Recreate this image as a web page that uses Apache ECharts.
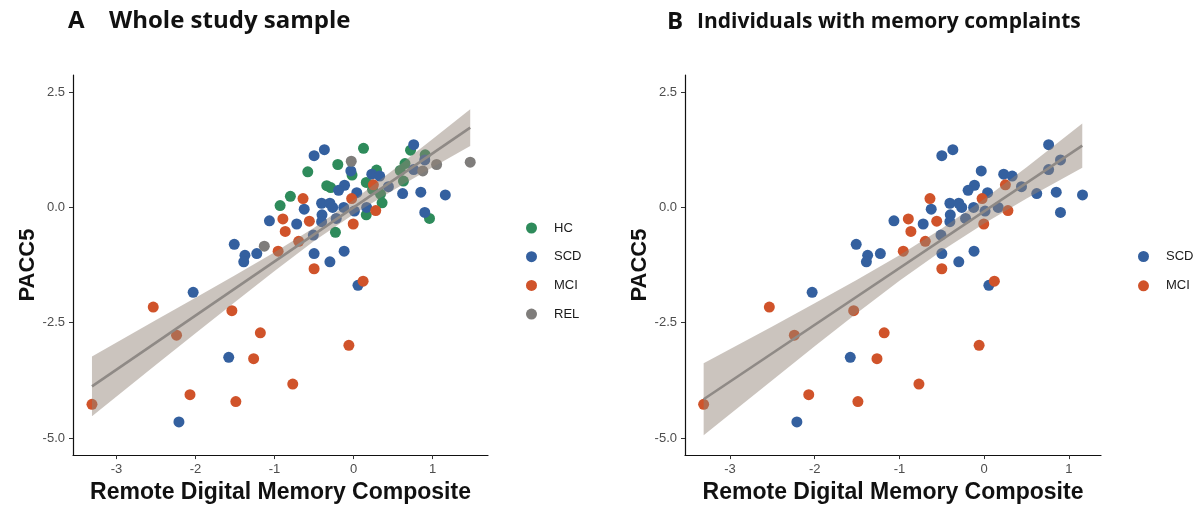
<!DOCTYPE html>
<html>
<head>
<meta charset="utf-8">
<script src="https://cdn.jsdelivr.net/npm/echarts@6/dist/echarts.min.js"></script>
<style>
html,body{margin:0;padding:0;background:#fff;}
#chart{width:1201px;height:509px;}
</style>
</head>
<body>
<div id="chart"></div>
<script>
// ---- data ----
const groupsA = ['HC', 'SCD', 'MCI', 'REL'];
const groupsB = ['SCD', 'MCI'];

const hcPoints = [
  [0.125,1.28],[-0.20,0.93],[-0.58,0.77],[-0.02,0.70],[0.29,0.81],[0.72,1.24],[0.905,1.14],
  [0.65,0.95],[0.59,0.80],[0.16,0.54],[-0.34,0.47],[-0.29,0.43],[0.63,0.57],[0.24,0.39],
  [0.34,0.29],[-0.80,0.24],[-0.93,0.04],[0.36,0.10],[0.16,-0.16],[0.96,-0.24],[-0.23,-0.54]
];
const scdPoints = [
  [0.76,1.36],[-0.37,1.25],[-0.50,1.12],[-0.035,0.79],[0.23,0.72],[0.33,0.68],[0.90,1.03],
  [0.76,0.82],[0.44,0.45],[-0.115,0.48],[-0.19,0.37],[0.04,0.32],[0.62,0.30],[0.85,0.33],
  [1.16,0.27],[-0.405,0.09],[-0.30,0.09],[-0.265,0.0],[-0.125,0.0],[0.165,0.0],[0.01,-0.08],
  [-0.625,-0.04],[-0.40,-0.16],[-0.405,-0.31],[0.90,-0.11],[-1.065,-0.29],[-0.72,-0.36],
  [-0.22,-0.24],[-0.51,-0.60],[-1.51,-0.80],[-1.375,-1.04],[-1.39,-1.18],[-1.225,-1.00],
  [-0.50,-1.00],[-0.12,-0.95],[-0.30,-1.18],[0.055,-1.69],[-2.03,-1.84],[-1.58,-3.25],[-2.21,-4.65]
];
const mciPoints = [
  [-0.64,0.19],[-0.025,0.19],[0.25,0.49],[-0.895,-0.25],[-0.56,-0.30],[-0.865,-0.52],[0.28,-0.07],
  [-0.005,-0.36],[-0.695,-0.735],[-0.955,-0.95],[-0.50,-1.33],[0.12,-1.60],[-2.535,-2.16],
  [-1.54,-2.24],[-2.24,-2.77],[-1.18,-2.72],[-0.06,-2.99],[-1.265,-3.28],[-0.77,-3.83],
  [-2.07,-4.06],[-1.49,-4.21],[-3.31,-4.27]
];
const relPoints = [
  [-0.03,1.00],[1.05,0.93],[1.475,0.98],[0.875,0.79],[-1.13,-0.84]
];

// fitted lines (end points)
const fitA = [[-3.31,-3.88],[1.475,1.73]];
const fitB = [[-3.31,-4.16],[1.157,1.34]];

// confidence bands, read at several x positions
const bandAx  = [-3.31,-2.5,-2,-1.5,-1,-0.5,0,0.5,1,1.475];
const bandAlo = [-4.53,-3.41,-2.73,-2.05,-1.38,-0.73,-0.15,0.37,0.87,1.33];
const bandAhi = [-3.23,-2.44,-1.96,-1.47,-0.97,-0.44,0.16,0.81,1.48,2.13];
const bandBx  = [-3.31,-2.5,-2,-1.5,-1,-0.5,0,0.5,1.157];
const bandBlo = [-4.94,-3.75,-3.01,-2.29,-1.59,-0.94,-0.35,0.19,0.86];
const bandBhi = [-3.38,-2.58,-2.08,-1.57,-1.04,-0.46,0.18,0.87,1.82];

const xTicks = [-3,-2,-1,0,1];
const yTicks = [-5,-2.5,0,2.5];

// ---- styling ----
const colors = {HC:'#2e8b5b', SCD:'#34609f', MCI:'#d0532a', REL:'#7f7d7b'};
const FONT = '"Liberation Sans", Arial, sans-serif';
const TITLE_FONT = '"Open Sans", "Liberation Sans", sans-serif';

function xAxisDef(idx, min, max){
  return {
    type:'value', gridIndex:idx, min:min, max:max,
    name:'Remote Digital Memory Composite', nameLocation:'middle', nameGap:22,
    nameTextStyle:{fontFamily:FONT, fontWeight:'bold', fontSize:23, color:'#111'},
    axisLine:{show:true, onZero:false, lineStyle:{color:'#111', width:1.2}},
    axisTick:{show:true, length:4, customValues:xTicks, lineStyle:{color:'#333', width:1}},
    axisLabel:{customValues:xTicks, margin:8, fontFamily:FONT, fontSize:13, color:'#4d4d4d'},
    splitLine:{show:false}
  };
}
function yAxisDef(idx){
  return {
    type:'value', gridIndex:idx, min:-5.37, max:2.87,
    name:'PACC5', nameLocation:'middle', nameGap:31, nameRotate:90,
    nameTextStyle:{fontFamily:FONT, fontWeight:'bold', fontSize:22, color:'#111'},
    axisLine:{show:true, onZero:false, lineStyle:{color:'#111', width:1.2}},
    axisTick:{show:true, length:4, customValues:yTicks, lineStyle:{color:'#333', width:1}},
    axisLabel:{customValues:yTicks, margin:8, fontFamily:FONT, fontSize:13, color:'#4d4d4d',
      formatter:v=>Number(v).toFixed(1)},
    splitLine:{show:false}
  };
}
function scatter(name, pts, idx){
  return {type:'scatter', name:name, xAxisIndex:idx, yAxisIndex:idx, data:pts,
    symbolSize:11, itemStyle:{color:colors[name], opacity:1}, z:2, silent:true};
}
function band(bx, lo, hi, idx){
  return {type:'custom', xAxisIndex:idx, yAxisIndex:idx, silent:true, z:5,
    data:[[bx[0], lo[0]]],
    renderItem:function(params, api){
      const pts = [];
      for(let i=0;i<bx.length;i++) pts.push(api.coord([bx[i], hi[i]]));
      for(let i=bx.length-1;i>=0;i--) pts.push(api.coord([bx[i], lo[i]]));
      return {type:'polygon', shape:{points:pts}, style:{fill:'rgba(147,132,120,0.48)'}};
    }};
}
function fit(pts, idx){
  return {type:'line', xAxisIndex:idx, yAxisIndex:idx, data:pts, symbol:'none', silent:true, z:6,
    lineStyle:{color:'#8f8a86', width:2.6}};
}

const pointsByGroup = {HC:hcPoints, SCD:scdPoints, MCI:mciPoints, REL:relPoints};

const series = [];
groupsA.forEach(g=>series.push(scatter(g, pointsByGroup[g], 0)));
series.push(band(bandAx, bandAlo, bandAhi, 0));
series.push(fit(fitA, 0));
groupsB.forEach(g=>series.push(scatter(g, pointsByGroup[g], 1)));
series.push(band(bandBx, bandBlo, bandBhi, 1));
series.push(fit(fitB, 1));

const titleStyleA = {fontFamily:TITLE_FONT, fontWeight:'bold', fontSize:24, color:'#111'};
const titleStyleB = {fontFamily:TITLE_FONT, fontWeight:'bold', fontSize:21, color:'#111'};
const legendText = {fontFamily:FONT, fontSize:13, color:'#1a1a1a', padding:[0,0,0,12]};

const option = {
  animation:false,
  backgroundColor:'#fff',
  title:[
    {text:'A', left:63, top:4, textStyle:titleStyleA},
    {text:'Whole study sample', left:104, top:4, textStyle:titleStyleA},
    {text:'B', left:662, top:5, textStyle:titleStyleA},
    {text:'Individuals with memory complaints', left:692, top:7, textStyle:titleStyleB}
  ],
  grid:[
    {left:73, top:75, width:415, height:383},
    {left:685, top:75, width:416, height:383}
  ],
  xAxis:[xAxisDef(0, -3.55, 1.70), xAxisDef(1, -3.53, 1.378)],
  yAxis:[yAxisDef(0), yAxisDef(1)],
  legend:[
    {data:groupsA, orient:'vertical', left:521, top:216.5, itemWidth:11, itemHeight:11, itemGap:15.7,
      icon:'circle', textStyle:legendText, selectedMode:false},
    {data:groupsB, orient:'vertical', left:1133, top:245, itemWidth:11, itemHeight:11, itemGap:16.3,
      icon:'circle', textStyle:legendText, selectedMode:false}
  ],
  series:series
};

const chart = echarts.init(document.getElementById('chart'), null, {renderer:'canvas'});
chart.setOption(option);
</script>
</body>
</html>
